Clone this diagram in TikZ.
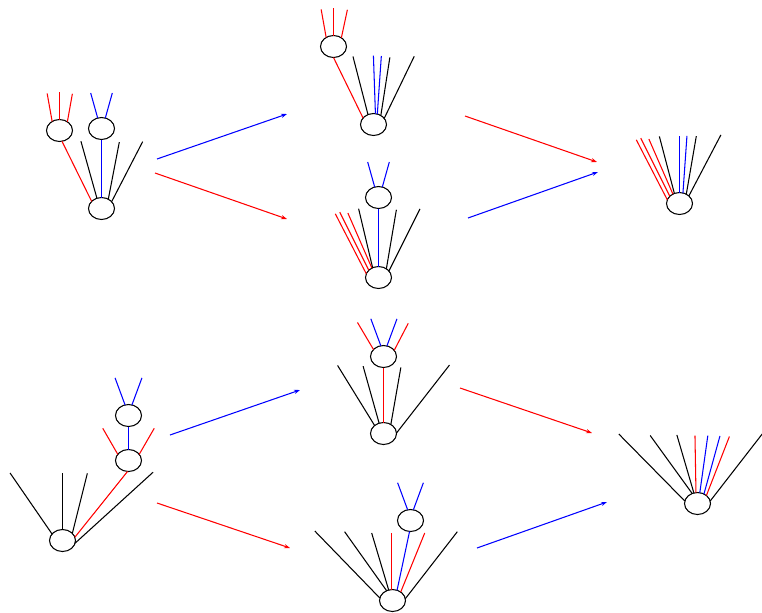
\documentclass[tikz,border=0pt]{standalone}
\usetikzlibrary{shapes.geometric,arrows.meta}
\begin{document}
\begin{tikzpicture}[x=0.03cm,y=-0.03cm,line width=0.9pt,
  vx/.style={draw=black,ellipse,minimum width=0.78cm,minimum height=0.66cm,inner sep=0pt,outer sep=0pt},
  arr/.style={-{Stealth[length=5pt,width=3.5pt]}}]
      \useasboundingbox (0,0) rectangle (762,612);

      \node[vx] (r1) at (59.5,130.5) {};
      \node[vx] (u1) at (101.5,128.5) {};
      \node[vx] (b1) at (101.5,208.5) {};
      \foreach \a/\d in {129/-5,90/0,48/5} \draw[red] (r1.\a) -- ++(\d,-28);
      \foreach \a/\d in {110/-7,70/7} \draw[blue] (u1.\a) -- ++(\d,-25);
      \draw[red] (r1.283) -- (b1.144);
      \draw[blue] (u1) -- (b1);
      \foreach \a/\x/\y in {114/-16/-57,54/11/-57,34/31/-60} \draw (b1.\a) -- ++(\x,\y);

      \node[vx] (r2) at (333.5,46.5) {};
      \node[vx] (b2) at (373.5,124.5) {};
      \foreach \a/\d in {129/-5,90/0,48/6} \draw[red] (r2.\a) -- ++(\d,-28);
      \draw[red] (r2.south) -- (b2.148);
      \foreach \a/\x/\y in {119/-15/-58,51/9/-58,30/30/-62} \draw (b2.\a) -- ++(\x,\y);
      \foreach \a/\x in {80/-2,70/4} \draw[blue] (b2.\a) -- ++(\x,-58);

      \node[vx] (u3) at (378.5,197.5) {};
      \node[vx] (b3) at (378.5,277.5) {};
      \foreach \a/\d in {110/-7,70/7} \draw[blue] (u3.\a) -- ++(\d,-25);
      \draw[blue] (u3) -- (b3);
      \foreach \a/\x/\y in {163/-31/-60,143/-29/-58,125/-24/-55} \draw[red] (b3.\a) -- ++(\x,\y);
      \foreach \a/\x/\y in {121/-14/-59,48/10/-59,32/31/-62} \draw (b3.\a) -- ++(\x,\y);

      \node[vx] (b4) at (679.5,203.5) {};
      \foreach \a/\x/\y in {163/-31/-60,143/-29/-58,125/-24/-55} \draw[red] (b4.\a) -- ++(\x,\y);
      \foreach \a/\x/\y in {117/-15/-57,54/10/-58,39/32/-61} \draw (b4.\a) -- ++(\x,\y);
      \foreach \a/\x in {90/0,72/4} \draw[blue] (b4.\a) -- ++(\x,-57);

      \node[vx] (u5) at (128.5,415.5) {};
      \node[vx] (m5) at (128.5,460.5) {};
      \node[vx] (b5) at (62.5,540.5) {};
      \foreach \a/\d in {108/-10,72/10} \draw[blue] (u5.\a) -- ++(\d,-27);
      \draw[blue] (u5) -- (m5);
      \foreach \a/\d in {150/-15,30/15} \draw[red] (m5.\a) -- ++(\d,-26);
      \draw[red] (m5.265) -- (b5.15);
      \foreach \a/\x/\y in {148/-42/-61,90/0/-57,36/15/-60,348/78/-71} \draw (b5.\a) -- ++(\x,\y);

      \node[vx] (t6) at (383.5,356.5) {};
      \node[vx] (b6) at (383.5,433.5) {};
      \foreach \a/\x/\c in {145/-16/red,104/-10/blue,72/10/blue,30/14/red} \draw[\c] (t6.\a) -- ++(\x,-27);
      \draw[red] (t6) -- (b6);
      \foreach \a/\x/\y in {138/-37/-60,113/-16/-57,51/10/-57,2/53/-68} \draw (b6.\a) -- ++(\x,\y);

      \node[vx] (t7) at (410.5,520.5) {};
      \node[vx] (b7) at (392.5,600.5) {};
      \foreach \a/\d in {105/-10,75/10} \draw[blue] (t7.\a) -- ++(\d,-27);
      \draw[blue] (t7.265) -- (b7.66);
      \foreach \a/\x/\y/\c in {169/-65/-67/black,121/-42/-59/black,110/-17/-57/black,93/0/-57/red,46/24/-59/red,8/52/-67/black} \draw[\c] (b7.\a) -- ++(\x,\y);

      \node[vx] (b8) at (697.5,503.5) {};
      \foreach \a/\x/\y/\c in {169/-66/-67/black,118/-42/-58/black,109/-17/-58/black,98/-1/-57/red,78/8/-57/blue,56/16/-58/blue,42/23/-59/red,11/52/-67/black} \draw[\c] (b8.\a) -- ++(\x,\y);

      \coordinate (p1) at (157,159); \coordinate (q1) at (287,114);
      \coordinate (p2) at (155,173); \coordinate (q2) at (287,219);
      \coordinate (p3) at (465,116); \coordinate (q3) at (597,162);
      \coordinate (p4) at (468,218); \coordinate (q4) at (598,172);
      \coordinate (p5) at (170,435); \coordinate (q5) at (300,390);
      \coordinate (p6) at (157,503); \coordinate (q6) at (290,548);
      \coordinate (p7) at (460,388); \coordinate (q7) at (592,433);
      \coordinate (p8) at (477,548); \coordinate (q8) at (607,502);
      \draw[blue,arr] (p1) -- (q1);
      \draw[red,arr] (p2) -- (q2);
      \draw[red,arr] (p3) -- (q3);
      \draw[blue,arr] (p4) -- (q4);
      \draw[blue,arr] (p5) -- (q5);
      \draw[red,arr] (p6) -- (q6);
      \draw[red,arr] (p7) -- (q7);
      \draw[blue,arr] (p8) -- (q8);
    \end{tikzpicture}
\end{document}
